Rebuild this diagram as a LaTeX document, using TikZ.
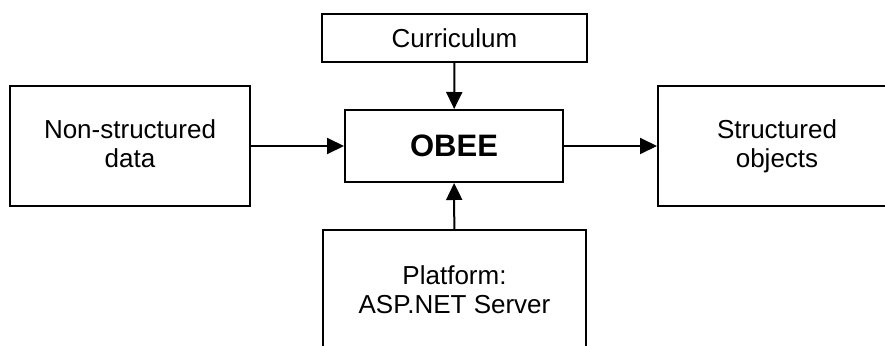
\documentclass[tikz,border=0pt]{standalone}
\usepackage{fontspec}
\setmainfont{Liberation Sans}
\usetikzlibrary{arrows.meta}
\begin{document}
\begin{tikzpicture}[x=1pt,y=-1pt,
  box/.style={draw,line width=2pt,rectangle,inner sep=0pt,align=center,
    font=\fontsize{26}{29}\selectfont},
  flow/.style={line width=2pt,-{Triangle[length=17pt,width=16pt]}}]
  \useasboundingbox (0,0) rectangle (885,345);
  \clip (0,0) rectangle (885,345);
  % input, control, mechanism and output boxes
  \node[box,minimum width=240pt,minimum height=120pt,text depth=5pt] (raw) at (130,146) {Non-structured\\data};
  \node[box,minimum width=265pt,minimum height=48pt] (curr) at (454.5,38) {Curriculum};
  \node[box,minimum width=218pt,minimum height=72pt,
        font=\fontsize{31}{34}\bfseries\selectfont] (obee) at (454,146) {OBEE};
  \node[box,minimum width=238pt,minimum height=120pt,text depth=5pt] (out) at (777,146) {Structured\\objects};
  \node[box,minimum width=263pt,minimum height=124pt,text depth=5pt] (plat) at (454.5,292) {Platform:\\ASP.NET Server};
  % connectors
  \draw[flow] (raw) -- (obee);
  \draw[flow] (obee) -- (out);
  \draw[flow] (curr) -- (obee);
  \draw[flow] (plat) -- (obee);
\end{tikzpicture}
\end{document}
